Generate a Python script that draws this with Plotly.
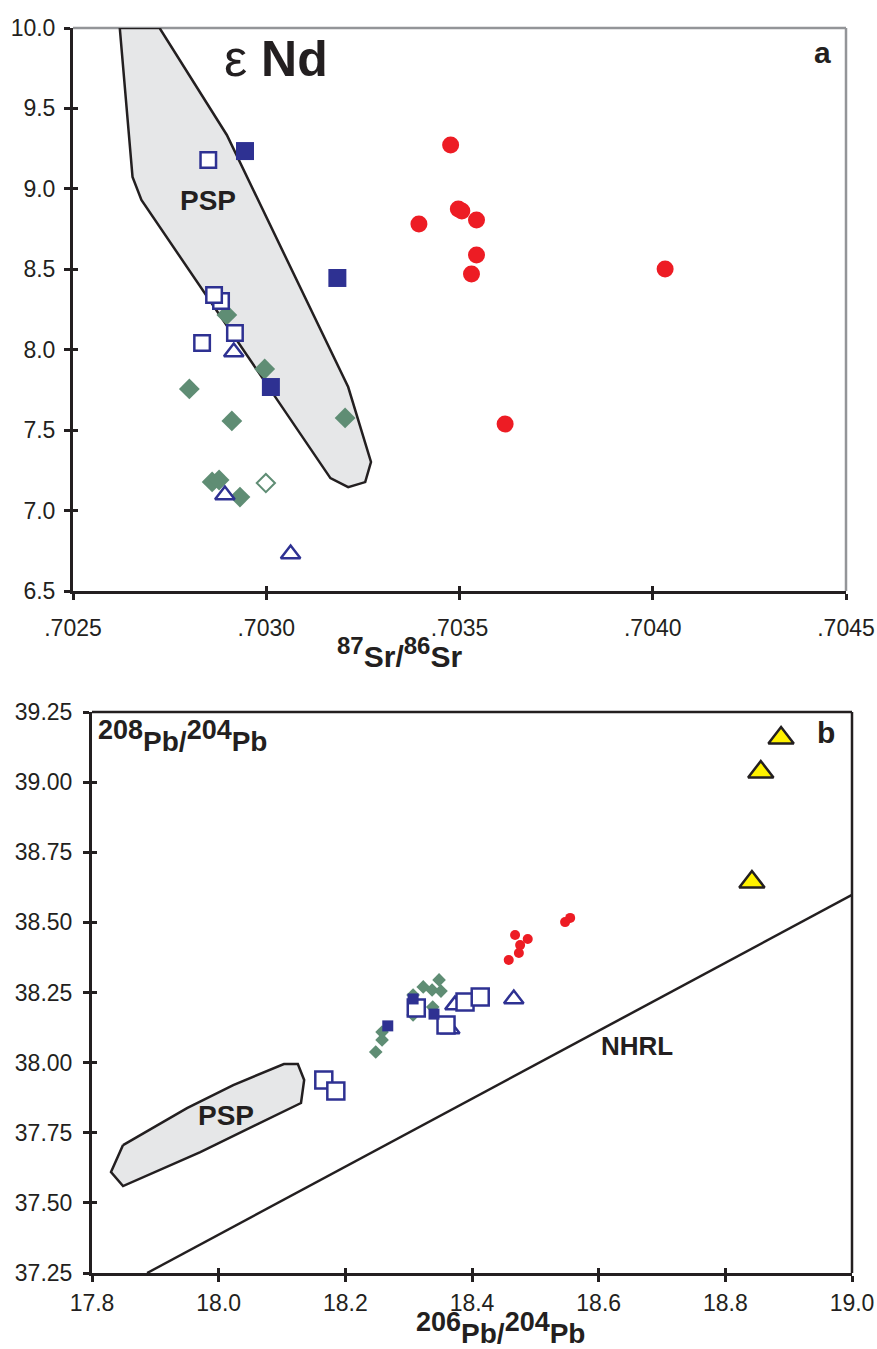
import plotly.graph_objects as go

# ---------------- Panel a data (87Sr/86Sr vs eNd) ----------------
psp_a_x = [0.702621, 0.702724, 0.702898, 0.703212, 0.703271, 0.703256, 0.703212, 0.703166, 0.702677, 0.702654, 0.702621]
psp_a_y = [10.0, 10.0, 9.335, 7.768, 7.302, 7.177, 7.146, 7.202, 8.931, 9.074, 10.0]

a_open_sq_x = [0.702850, 0.702883, 0.702865, 0.702834, 0.702919]
a_open_sq_y = [9.179, 8.303, 8.340, 8.042, 8.104]
a_fill_sq_x = [0.702945, 0.703184, 0.703012]
a_fill_sq_y = [9.235, 8.446, 7.768]
a_open_tri_x = [0.702916, 0.702893, 0.703063]
a_open_tri_y = [7.986, 7.097, 6.730]
a_dia_x = [0.702898, 0.702996, 0.702801, 0.702911, 0.703204, 0.702860, 0.702878, 0.702932]
a_dia_y = [8.216, 7.880, 7.756, 7.557, 7.576, 7.178, 7.190, 7.084]
a_open_dia_x = [0.702999]
a_open_dia_y = [7.171]
a_red_x = [0.703477, 0.703497, 0.703506, 0.703544, 0.703395, 0.703544, 0.703531, 0.704032, 0.703618]
a_red_y = [9.273, 8.875, 8.862, 8.806, 8.782, 8.589, 8.471, 8.502, 7.538]

a_xticks = [0.7025, 0.7030, 0.7035, 0.7040, 0.7045]
a_xtick_labels = [".7025", ".7030", ".7035", ".7040", ".7045"]
a_yticks = [6.5, 7.0, 7.5, 8.0, 8.5, 9.0, 9.5, 10.0]
a_ytick_labels = ["6.5", "7.0", "7.5", "8.0", "8.5", "9.0", "9.5", "10.0"]

# ---------------- Panel b data (206Pb/204Pb vs 208Pb/204Pb) ----------------
psp_b_x = [17.849, 17.830, 17.849, 17.971, 18.130, 18.135, 18.125, 18.103, 18.023, 17.950, 17.849]
psp_b_y = [37.706, 37.610, 37.560, 37.681, 37.856, 37.938, 37.995, 37.995, 37.920, 37.838, 37.706]
nhrl_x = [17.887, 19.0]
nhrl_y = [37.25, 38.598]

b_dia_x = [18.248, 18.258, 18.258, 18.307, 18.323, 18.337, 18.351, 18.348, 18.338, 18.307]
b_dia_y = [38.038, 38.081, 38.109, 38.241, 38.270, 38.259, 38.255, 38.295, 38.198, 38.170]
b_open_tri_x = [18.466, 18.373, 18.365]
b_open_tri_y = [38.227, 38.205, 38.120]
b_open_sq_x = [18.166, 18.185, 18.312, 18.359, 18.389, 18.413]
b_open_sq_y = [37.938, 37.899, 38.195, 38.134, 38.216, 38.234]
b_fill_sq_x = [18.267, 18.307, 18.340]
b_fill_sq_y = [38.131, 38.227, 38.173]
b_red_x = [18.555, 18.547, 18.468, 18.488, 18.476, 18.474, 18.458]
b_red_y = [38.516, 38.501, 38.455, 38.441, 38.419, 38.391, 38.366]
b_yel_x = [18.888, 18.856, 18.842]
b_yel_y = [39.157, 39.036, 38.644]

b_xticks = [17.8, 18.0, 18.2, 18.4, 18.6, 18.8, 19.0]
b_xtick_labels = ["17.8", "18.0", "18.2", "18.4", "18.6", "18.8", "19.0"]
b_yticks = [37.25, 37.50, 37.75, 38.00, 38.25, 38.50, 38.75, 39.00, 39.25]
b_ytick_labels = ["37.25", "37.50", "37.75", "38.00", "38.25", "38.50", "38.75", "39.00", "39.25"]

# ---------------- styles ----------------
NAVY = "#2E3192"
GREEN = "#5F8D74"
RED = "#ED1C24"
YEL = "#FFF200"
INK = "#231F20"
GRAY = "#939598"
PSPFILL = "#E6E7E8"
FONT = "Liberation Sans, Arial, sans-serif"

fig = go.Figure()

def sc(x, y, xa, ya, **kw):
    fig.add_trace(go.Scatter(x=x, y=y, xaxis=xa, yaxis=ya, showlegend=False,
                             hoverinfo="skip", **kw))

# Panel a
sc(psp_a_x, psp_a_y, "x", "y", mode="lines", fill="toself", fillcolor=PSPFILL,
   line=dict(color=INK, width=2.5))
sc(a_dia_x, a_dia_y, "x", "y", mode="markers",
   marker=dict(symbol="diamond", size=16, color=GREEN, line=dict(width=0)))
sc(a_open_dia_x, a_open_dia_y, "x", "y", mode="markers",
   marker=dict(symbol="diamond", size=14, color="white", line=dict(color=GREEN, width=2)))
sc(a_open_tri_x, a_open_tri_y, "x", "y", mode="markers",
   marker=dict(symbol="triangle-up", size=17, color="white", line=dict(color=NAVY, width=2.5)))
sc(a_open_sq_x, a_open_sq_y, "x", "y", mode="markers",
   marker=dict(symbol="square", size=15.5, color="white", line=dict(color=NAVY, width=2.5)))
sc(a_fill_sq_x, a_fill_sq_y, "x", "y", mode="markers",
   marker=dict(symbol="square", size=18, color=NAVY, line=dict(width=0)))
sc(a_red_x, a_red_y, "x", "y", mode="markers",
   marker=dict(symbol="circle", size=17, color=RED, line=dict(width=0)))

# Panel b
sc(psp_b_x, psp_b_y, "x2", "y2", mode="lines", fill="toself", fillcolor=PSPFILL,
   line=dict(color=INK, width=2.5))
sc(nhrl_x, nhrl_y, "x2", "y2", mode="lines", line=dict(color=INK, width=2.5))
sc(b_dia_x, b_dia_y, "x2", "y2", mode="markers",
   marker=dict(symbol="diamond", size=10.5, color=GREEN, line=dict(width=0)))
sc(b_open_tri_x, b_open_tri_y, "x2", "y2", mode="markers",
   marker=dict(symbol="triangle-up", size=17, color="white", line=dict(color=NAVY, width=2.5)))
sc(b_open_sq_x, b_open_sq_y, "x2", "y2", mode="markers",
   marker=dict(symbol="square", size=17, color="white", line=dict(color=NAVY, width=2.5)))
sc(b_fill_sq_x, b_fill_sq_y, "x2", "y2", mode="markers",
   marker=dict(symbol="square", size=11, color=NAVY, line=dict(width=0)))
sc(b_red_x, b_red_y, "x2", "y2", mode="markers",
   marker=dict(symbol="circle", size=10, color=RED, line=dict(width=0)))
sc(b_yel_x, b_yel_y, "x2", "y2", mode="markers",
   marker=dict(symbol="triangle-up", size=22, color=YEL, line=dict(color=INK, width=2.5)))

# empty traces for the inside-tick overlay axes
sc([], [], "x3", "y3", mode="markers")
sc([], [], "x4", "y4", mode="markers")

W, H = 877, 1349
ax_l, ax_r, ax_t, ax_b = 73, 846, 28, 591
bx_l, bx_r, bx_t, bx_b = 92, 852, 712, 1273
a_xdom = [ax_l / W, ax_r / W]
a_ydom = [1 - ax_b / H, 1 - ax_t / H]
b_xdom = [bx_l / W, bx_r / W]
b_ydom = [1 - bx_b / H, 1 - bx_t / H]

tickfont = dict(family=FONT, size=23, color=INK)
common = dict(showgrid=False, zeroline=False, tickfont=tickfont, ticks="outside",
              ticklen=6, tickwidth=2.5, tickcolor=INK, showline=True,
              linecolor=INK, linewidth=3, automargin=False, ticklabeloverflow="allow")
inner = dict(showgrid=False, zeroline=False, ticks="inside", ticklen=5, tickwidth=2.5,
             tickcolor=INK, showline=False, showticklabels=False, automargin=False)

a_xr = [a_xticks[0], a_xticks[-1]]
a_yr = [a_yticks[0], a_yticks[-1]]
b_xr = [b_xticks[0], b_xticks[-1]]
b_yr = [b_yticks[0], b_yticks[-1]]

fig.update_layout(
    width=W, height=H, margin=dict(l=0, r=0, t=0, b=0),
    paper_bgcolor="white", plot_bgcolor="white",
    xaxis=dict(domain=a_xdom, range=a_xr, anchor="y", tickvals=a_xticks,
               ticktext=a_xtick_labels, ticklabelstandoff=8, **common),
    yaxis=dict(domain=a_ydom, range=a_yr, anchor="x", tickvals=a_yticks,
               ticktext=a_ytick_labels, ticklabelstandoff=4, **common),
    xaxis2=dict(domain=b_xdom, range=b_xr, anchor="y2", tickvals=b_xticks,
                ticktext=b_xtick_labels, ticklabelstandoff=1, **common),
    yaxis2=dict(domain=b_ydom, range=b_yr, anchor="x2", tickvals=b_yticks,
                ticktext=b_ytick_labels, ticklabelstandoff=6, **common),
    xaxis3=dict(overlaying="x", anchor="y", range=a_xr, tickvals=a_xticks, **inner),
    yaxis3=dict(overlaying="y", anchor="x", range=a_yr, tickvals=a_yticks, **inner),
    xaxis4=dict(overlaying="x2", anchor="y2", range=b_xr, tickvals=b_xticks, **inner),
    yaxis4=dict(overlaying="y2", anchor="x2", range=b_yr, tickvals=b_yticks, **inner),
)

# frame lines (top / right)
fig.add_shape(type="line", xref="x domain", yref="y domain", x0=0, x1=1, y0=1, y1=1,
              line=dict(color=GRAY, width=2.5), layer="below")
fig.add_shape(type="line", xref="x domain", yref="y domain", x0=1, x1=1, y0=0, y1=1,
              line=dict(color=GRAY, width=2.5), layer="below")
fig.add_shape(type="line", xref="x2 domain", yref="y2 domain", x0=0, x1=1, y0=1, y1=1,
              line=dict(color=INK, width=2.5))
fig.add_shape(type="line", xref="x2 domain", yref="y2 domain", x0=1, x1=1, y0=0, y1=1,
              line=dict(color=INK, width=2.5))

def ann(text, x, y, xref, yref, size, bold=True, xanchor="center", yanchor="middle"):
    fig.add_annotation(text=text, x=x, y=y, xref=xref, yref=yref, showarrow=False,
                       xanchor=xanchor, yanchor=yanchor, borderpad=0,
                       font=dict(family=FONT, size=size, color=INK,
                                 weight="bold" if bold else "normal"))

# Panel a labels
ann("<span style='font-size:52px'>ε</span> <b>Nd</b>", 0.262, 0.947, "x domain", "y domain", 50, bold=False)
ann("a", 0.970, 0.956, "x domain", "y domain", 30)
ann("PSP", 0.70285, 8.925, "x", "y", 28)
ann("<sup><span style='font-size:24px'>87</span></sup>Sr/<sup><span style='font-size:24px'>86</span></sup>Sr",
    399 / W, 1 - 652 / H, "paper", "paper", 30)

# Panel b labels
ann("<sup><span style='font-size:27px'>208</span></sup>Pb/<sup><span style='font-size:27px'>204</span></sup>Pb",
    0.007, 0.957, "x2 domain", "y2 domain", 28, xanchor="left")
ann("b", 0.966, 0.9626, "x2 domain", "y2 domain", 30)
ann("PSP", 18.012, 37.813, "x2", "y2", 28)
ann("NHRL", 18.661, 38.059, "x2", "y2", 26)
ann("<sup><span style='font-size:27px'>206</span></sup>Pb/<sup><span style='font-size:27px'>204</span></sup>Pb",
    500 / W, 1 - 1328 / H, "paper", "paper", 28)

fig.write_html("out.html")
